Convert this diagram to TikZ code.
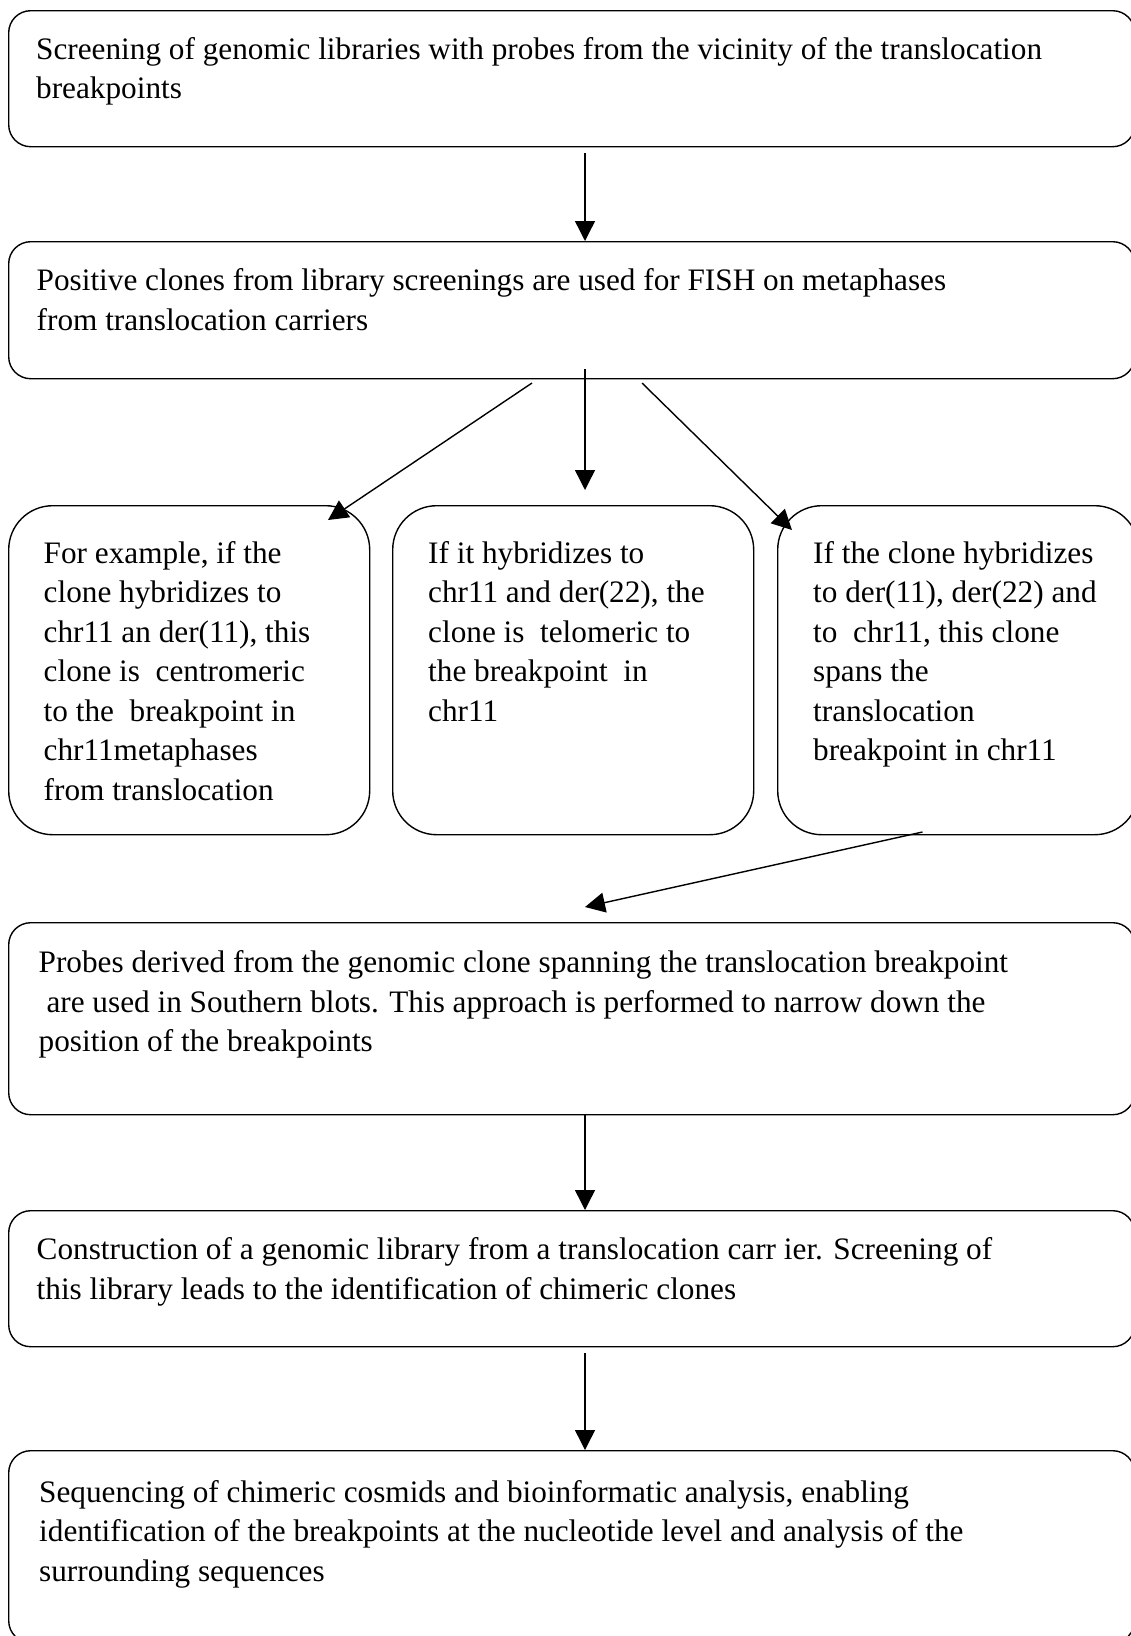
\documentclass[tikz,border=0pt]{standalone}
\usepackage{fontspec}
\setmainfont{Liberation Serif}
\usetikzlibrary{positioning,arrows.meta}

\tikzset{
    stage/.style={draw, line width=1.4pt, rounded corners=22pt, anchor=north west, inner sep=0pt},
    choice/.style={stage, rounded corners=44pt, minimum width=361pt, minimum height=329pt},
    txt/.style={anchor=north west, align=left, inner sep=0pt, font=\fontsize{31.25}{39.5}\selectfont},
    arr/.style={-{Triangle[length=20pt,width=20pt]}, line width=1.4pt}
}

\begin{document}
\begin{tikzpicture}[x=1pt,y=-1pt]
    \useasboundingbox (0,0) rectangle (1131,1636);

    % Draw the boxes
    \node[stage, minimum width=1126pt, minimum height=136pt] (screen) at (8,10) {};
    \node[stage, minimum width=1126pt, minimum height=137pt] (fish) at (8,241) {};
    \node[choice] (centro) at (8,505) {};
    \node[choice] (telo) at (392,505) {};
    \node[choice] (span) at (777,505) {};
    \node[stage, minimum width=1126pt, minimum height=192pt] (southern) at (8,922) {};
    \node[stage, minimum width=1126pt, minimum height=136pt] (library) at (8,1210) {};
    \node[stage, minimum width=1126pt, minimum height=192pt] (sequencing) at (8,1450) {};

    % Texts of the boxes
    \node[txt, below right=27pt and 28pt of screen.north west] (screentext)
        {Screening of genomic libraries with probes from the vicinity of the translocation\\breakpoints};
    \node[txt, below right=27.5pt and 28.5pt of fish.north west] (fishtext)
        {Positive clones from library screenings are used for FISH on metaphases\\from translocation carriers};
    \node[txt, below right=36pt and 35.5pt of centro.north west] (centrotext)
        {For example, if the\\clone hybridizes to\\chr11 an der(11), this\\clone is\ \ centromeric\\to the\ \ breakpoint in\\chr11metaphases\\from translocation};
    \node[txt, below right=36pt and 36pt of telo.north west] (telotext)
        {If it hybridizes to\\chr11 and der(22), the\\clone is\ \ telomeric to\\the breakpoint\ \ in\\chr11};
    \node[txt, below right=36pt and 36pt of span.north west] (spantext)
        {If the clone hybridizes\\to der(11), der(22) and\\to\ \ chr11, this clone\\spans the\\translocation\\breakpoint in chr11};
    \node[txt, below right=28.5pt and 30.5pt of southern.north west] (southerntext)
        {Probes derived from the genomic clone spanning the translocation breakpoint\\\ are used in Southern blots. This approach is performed to narrow down the\\position of the breakpoints};
    \node[txt, below right=27.5pt and 28.5pt of library.north west] (librarytext)
        {Construction of a genomic library from a translocation carr ier. Screening of\\this library leads to the identification of chimeric clones};
    \node[txt, below right=30pt and 31pt of sequencing.north west] (sequencingtext)
        {Sequencing of chimeric cosmids and bioinformatic analysis, enabling\\identification of the breakpoints at the nucleotide level and analysis of the\\surrounding sequences};

    % Arrow ends
    \coordinate (a1) at (585,153);
    \coordinate (a2) at (585,369);
    \coordinate (b2) at (585,490);
    \coordinate (a3) at (532,383);
    \coordinate (b3) at (328,520);
    \coordinate (a4) at (642,383);
    \coordinate (b4) at (792,530);
    \coordinate (a5) at (922.5,832);
    \coordinate (b5) at (585,907);
    \coordinate (a7) at (585,1353);

    % Draw the arrows
    \draw[arr] (a1) -- (a1 |- fish.north);
    \draw[arr] (a2) -- (b2);
    \draw[arr] (a3) -- (b3);
    \draw[arr] (a4) -- (b4);
    \draw[arr] (a5) -- (b5);
    \draw[arr] (a1 |- southern.south) -- (a1 |- library.north);
    \draw[arr] (a7) -- (a7 |- sequencing.north);
\end{tikzpicture}
\end{document}
